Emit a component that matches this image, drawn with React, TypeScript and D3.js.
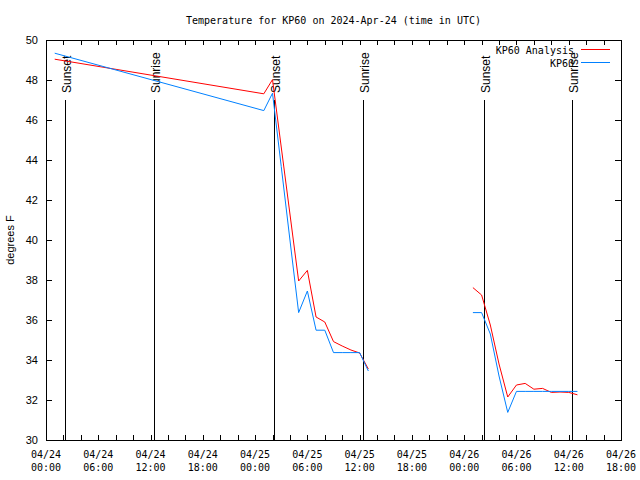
import React from "react";
import * as d3 from "d3";

// hours after 2024-04-24 00:00 UTC
const hours: (number)[] = [1, 25, 26, 27, 28, 29, 30, 31, 32, 33, 34, 35, 36, 37, 43, 49, 50, 51, 52, 53, 54, 55, 56, 57, 58, 59, 60, 61];
const analysis: (number | null)[] = [49.04, 47.31, 48.02, 44.65, 41.3, 37.95, 38.48, 36.15, 35.9, 34.92, 34.7, 34.5, 34.35, 33.55, null, 37.62, 37.25, 35.75, 33.8, 32.15, 32.75, 32.83, 32.54, 32.58, 32.38, 32.4, 32.38, 32.26];
const observed: (number | null)[] = [49.34, 46.47, 47.34, 43.68, 40.0, 36.37, 37.45, 35.49, 35.49, 34.37, 34.37, 34.37, 34.37, 33.45, null, 36.37, 36.37, 35.3, 33.2, 31.38, 32.43, 32.43, 32.43, 32.43, 32.43, 32.43, 32.43, 32.43];

const eventLabels = ["Sunset", "Sunrise", "Sunset", "Sunrise", "Sunset", "Sunrise"];
const eventHours = [2.2, 12.4, 26.22, 36.42, 50.25, 60.42];

const yTicks = [30, 32, 34, 36, 38, 40, 42, 44, 46, 48, 50];
const xTickHours = [0, 6, 12, 18, 24, 30, 36, 42, 48, 54, 60, 66];
const xTickDates = ["04/24", "04/24", "04/24", "04/24", "04/25", "04/25", "04/25", "04/25", "04/26", "04/26", "04/26", "04/26"];
const xTickTimes = ["00:00", "06:00", "12:00", "18:00", "00:00", "06:00", "12:00", "18:00", "00:00", "06:00", "12:00", "18:00"];

const seriesNames = ["KP60 Analysis", "KP60"];
const seriesColors = ["#ff0000", "#0080ff"];

const W = 640, H = 480;
const L = 46, R = 621, T = 40, B = 440;
const mono = "'DejaVu Sans Mono', monospace";
const sans = "'Liberation Sans', Arial, sans-serif";

export default function App() {
  const x = d3.scaleLinear().domain([0, 66]).range([L, R]);
  const y = d3.scaleLinear().domain([30, 50]).range([B, T]);
  const minorTicks = d3.range(0, 67, 2);

  const mkLine = (vals: (number | null)[]) =>
    d3.line<number>()
      .defined((_, i) => vals[i] !== null)
      .x((h) => x(h))
      .y((_, i) => y(vals[i] as number))(hours) || "";

  const series = [analysis, observed];

  return (
    <svg width={W} height={H} style={{ position: "absolute", left: 0, top: 0, background: "#fff" }}>
      <rect x={0} y={0} width={W} height={H} fill="#fff" />
      <text x={(L + R) / 2} y={24} textAnchor="middle" fontFamily={mono} fontSize={10}>
        Temperature for KP60 on 2024-Apr-24 (time in UTC)
      </text>

      {/* ticks */}
      <g stroke="#000" strokeWidth={1} shapeRendering="crispEdges">
        {yTicks.map((t) => (
          <g key={t}>
            <line x1={L} x2={L + 6} y1={Math.round(y(t)) + 0.5} y2={Math.round(y(t)) + 0.5} />
            <line x1={R - 6} x2={R} y1={Math.round(y(t)) + 0.5} y2={Math.round(y(t)) + 0.5} />
          </g>
        ))}
        {minorTicks.map((h) => (
          <g key={h}>
            <line x1={Math.round(x(h)) + 0.5} x2={Math.round(x(h)) + 0.5} y1={B} y2={B - 5} />
            <line x1={Math.round(x(h)) + 0.5} x2={Math.round(x(h)) + 0.5} y1={T} y2={T + 5} />
          </g>
        ))}
      </g>

      {/* y labels */}
      {yTicks.map((t) => (
        <text key={t} x={38} y={y(t) + 4} textAnchor="end" fontFamily={sans} fontSize={11}>
          {t}
        </text>
      ))}
      <text transform={`translate(14,${(T + B) / 2}) rotate(-90)`} textAnchor="middle" fontFamily={sans} fontSize={11}>
        degrees F
      </text>

      {/* x labels */}
      {xTickHours.map((h, i) => (
        <g key={h}>
          <text x={x(h)} y={458} textAnchor="middle" fontFamily={mono} fontSize={10}>
            {xTickDates[i]}
          </text>
          <text x={x(h)} y={471} textAnchor="middle" fontFamily={mono} fontSize={10}>
            {xTickTimes[i]}
          </text>
        </g>
      ))}

      {/* sunrise / sunset */}
      {eventHours.map((h, i) => {
        const px = Math.round(x(h)) + 0.5;
        return (
          <g key={i}>
            <line x1={px} x2={px} y1={y(47)} y2={B} stroke="#000" strokeWidth={1.3} shapeRendering="crispEdges" />
            <text transform={`translate(${px + 5},93) rotate(-90)`} textAnchor="start" fontFamily={sans} fontSize={12}>
              {eventLabels[i]}
            </text>
          </g>
        );
      })}

      {/* data */}
      {series.map((vals, i) => (
        <path key={i} d={mkLine(vals)} fill="none" stroke={seriesColors[i]} strokeWidth={1} />
      ))}

      {/* legend */}
      {seriesNames.map((n, i) => (
        <g key={n}>
          <text x={574} y={54 + i * 12.5} textAnchor="end" fontFamily={mono} fontSize={10}>
            {n}
          </text>
          <line x1={581} x2={610} y1={49.5 + i * 12.5} y2={49.5 + i * 12.5} stroke={seriesColors[i]} strokeWidth={1} shapeRendering="crispEdges" />
        </g>
      ))}

      {/* border */}
      <rect x={L + 0.5} y={T + 0.5} width={R - L} height={B - T} fill="none" stroke="#000" strokeWidth={1} shapeRendering="crispEdges" />
    </svg>
  );
}
